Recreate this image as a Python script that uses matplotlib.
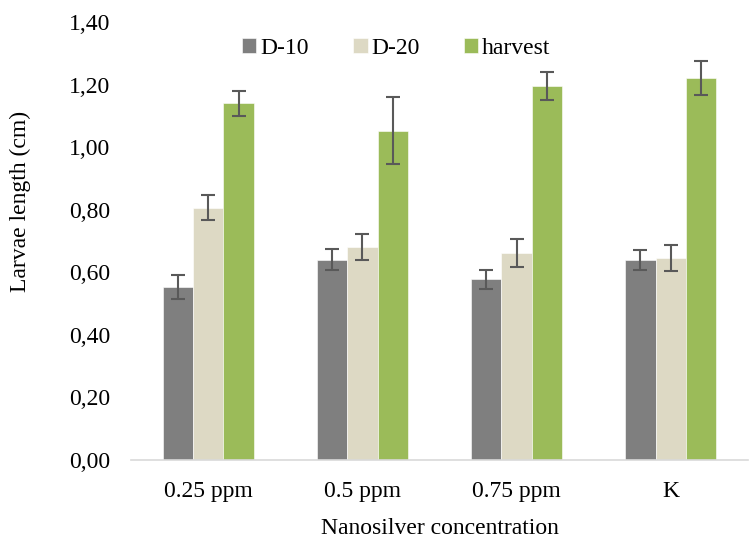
import matplotlib
matplotlib.use("Agg")
import matplotlib.pyplot as plt
import numpy as np

categories = ["0.25 ppm", "0.5 ppm", "0.75 ppm", "K"]
series_names = ["D-10", "D-20", "harvest"]
d10 = [0.553, 0.640, 0.577, 0.640]
d20 = [0.806, 0.680, 0.662, 0.646]
harvest = [1.140, 1.052, 1.196, 1.221]
d10_err = [0.038, 0.033, 0.031, 0.032]
d20_err = [0.040, 0.042, 0.046, 0.042]
harvest_err = [0.040, 0.107, 0.044, 0.053]
yticks = [0.0, 0.2, 0.4, 0.6, 0.8, 1.0, 1.2, 1.4]

colors = ["#7f7f7f", "#ddd9c4", "#9bbb59"]

plt.rcParams["font.family"] = ["Liberation Serif", "DejaVu Serif"]

fig = plt.figure(figsize=(7.5, 5.38), dpi=100)
ax = fig.add_axes([0.175, 0.145, 0.822, 0.814])

x = np.arange(len(categories))
width = 0.197
values = [d10, d20, harvest]
errors = [d10_err, d20_err, harvest_err]
for i, (name, vals, errs) in enumerate(zip(series_names, values, errors)):
    ax.bar(x + (i - 1) * width, vals, width, color=colors[i], label=name,
           edgecolor="white", linewidth=0.4,
           yerr=errs, error_kw=dict(ecolor="#595959", elinewidth=1.5, capsize=5, capthick=1.5))

ax.set_xlim(-0.5, len(categories) - 0.5)
ax.set_ylim(0, 1.4)
ax.set_yticks(yticks)
ax.set_yticklabels([f"{t:.2f}".replace(".", ",") for t in yticks])
ax.set_xticks(x)
ax.set_xticklabels(categories)
ax.tick_params(axis="both", length=0, labelsize=17, colors="black")
ax.tick_params(axis="x", pad=15)
ax.tick_params(axis="y", pad=15)

for side in ["top", "right", "left"]:
    ax.spines[side].set_visible(False)
ax.spines["bottom"].set_color("#d9d9d9")
ax.spines["bottom"].set_linewidth(1.2)

ax.set_xlabel("Nanosilver concentration", fontsize=17, labelpad=12)
ax.set_ylabel("Larvae length (cm)", fontsize=17)
ax.yaxis.set_label_coords(-0.163, 0.59)

ax.legend(loc="center", bbox_to_anchor=(0.43, 0.94), ncol=3, frameon=False,
          fontsize=17, handlelength=0.6, handleheight=0.6, columnspacing=1.9,
          handletextpad=0.15, borderpad=0)

fig.savefig("out.png", dpi=100)
